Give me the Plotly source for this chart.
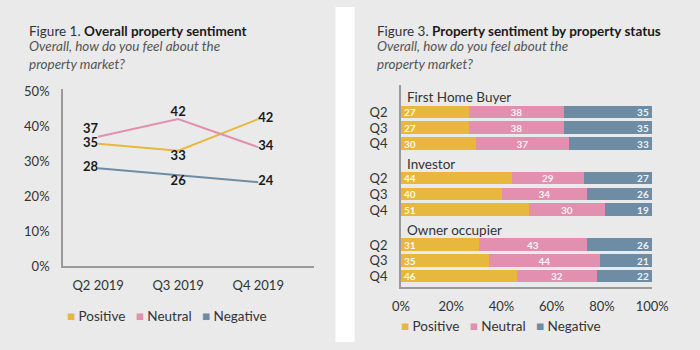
import plotly.graph_objects as go

# ---------------- data ----------------
quarters = ["Q2 2019", "Q3 2019", "Q4 2019"]
positive = [35, 33, 42]
neutral = [37, 42, 34]
negative = [28, 26, 24]

groups = ["First Home Buyer", "Investor", "Owner occupier"]
rows = ["Q2", "Q3", "Q4"]
bar_positive = [27, 27, 30, 44, 40, 51, 31, 35, 46]
bar_neutral = [38, 38, 37, 29, 34, 30, 43, 44, 32]
bar_negative = [35, 35, 33, 27, 26, 19, 26, 21, 22]

y_ticks = [0, 10, 20, 30, 40, 50]
x_ticks = [0, 20, 40, 60, 80, 100]

series_names = ["Positive", "Neutral", "Negative"]
colors = ["#E8B83E", "#E28FB0", "#6E8CA3"]

FONT = "Lato"
W, H = 700, 350

def px_x(p):
    return p / W

def px_y(p):
    return 1 - p / H

fig = go.Figure()

# ---------------- left: line chart ----------------
line_pos = [
    ["middle left", "bottom center", "middle right"],
    ["top left", "top center", "middle right"],
    ["middle left", "bottom center", "middle right"],
]
for name, vals, col, tp in zip(series_names, [positive, neutral, negative], colors, line_pos):
    fig.add_trace(go.Scatter(
        x=quarters, y=vals, mode="lines+text", name=name,
        line=dict(color=col, width=2),
        text=[str(v) for v in vals], textposition=tp,
        textfont=dict(family=FONT, size=13, color="#1a1a1a", weight="bold"),
        xaxis="x", yaxis="y", showlegend=False, cliponaxis=False,
    ))

# ---------------- right: stacked bars ----------------
GAP = 4.2
ypos, ytext = [], []
for g in range(len(groups)):
    for r, rl in enumerate(rows):
        ypos.append(g * GAP + r)
        ytext.append(rl)

anchors = ["start", "middle", "end"]
for name, vals, col, anc in zip(series_names, [bar_positive, bar_neutral, bar_negative], colors, anchors):
    fig.add_trace(go.Bar(
        x=vals, y=ypos, orientation="h", name=name,
        marker=dict(color=col, line=dict(width=0)),
        width=0.8,
        text=[str(v) for v in vals], textposition="inside", insidetextanchor=anc,
        textangle=0,
        textfont=dict(family=FONT, size=10, color="rgba(255,255,255,0.92)", weight="bold"),
        xaxis="x2", yaxis="y2", showlegend=False,
    ))

# ---------------- layout ----------------
axis_col = "#9a9a9a"
tick_font = dict(family=FONT, size=13, color="#333333")
panel = "#EAEAEA"

fig.update_layout(
    width=W, height=H, margin=dict(l=0, r=0, t=0, b=0),
    paper_bgcolor=panel, plot_bgcolor="rgba(0,0,0,0)",
    barmode="stack", bargap=0,
    uniformtext=dict(minsize=10, mode="show"),
    font=dict(family=FONT, color="#333333"),
    xaxis=dict(domain=[px_x(56), px_x(317)], range=[-0.44, 2.7], type="category",
               showline=True, linecolor=axis_col, linewidth=1.5, showgrid=False,
               ticks="", tickfont=tick_font, ticklabelstandoff=6, anchor="y"),
    yaxis=dict(domain=[px_y(271), px_y(86)], range=[0, 50.5], tickmode="array",
               tickvals=y_ticks, ticktext=[f"{v}%" for v in y_ticks],
               showline=True, linecolor=axis_col, linewidth=1.5, showgrid=False,
               zeroline=False, ticks="", tickfont=tick_font, ticklabelstandoff=9, anchor="x"),
    xaxis2=dict(domain=[px_x(407), px_x(668)], range=[0, 100], tickmode="array",
                tickvals=x_ticks, ticktext=[f"{v}%" for v in x_ticks],
                showline=True, linecolor=axis_col, linewidth=1.5, showgrid=False,
                zeroline=False, ticks="", tickfont=tick_font, ticklabelstandoff=6, anchor="y2"),
    yaxis2=dict(domain=[px_y(293), px_y(82)], range=[11.09, -1.70], tickmode="array",
                tickvals=ypos, ticktext=ytext,
                showline=True, linecolor=axis_col, linewidth=1.5, showgrid=False, zeroline=False,
                ticks="", tickfont=tick_font, ticklabelstandoff=9, anchor="x2"),
)

# white gap between the two panels
fig.add_shape(type="rect", xref="paper", yref="paper", x0=px_x(339), x1=px_x(359), y0=0, y1=1,
              fillcolor="white", line=dict(width=0), layer="below")

# titles
def title(x, text_fig, text_bold):
    fig.add_annotation(xref="paper", yref="paper", x=px_x(x), y=px_y(25), xanchor="left", yanchor="middle",
                       showarrow=False,
                       text=f"<span style='color:#333'>{text_fig}</span> <b>{text_bold}</b>",
                       font=dict(family=FONT, size=13.5, color="#1a1a1a"))
    fig.add_annotation(xref="paper", yref="paper", x=px_x(x), y=px_y(50), xanchor="left", yanchor="middle",
                       showarrow=False, align="left",
                       text="<i>Overall, how do you feel about the<br>property market?</i>",
                       font=dict(family=FONT, size=13.5, color="#555555"))

title(19, "Figure 1.", "Overall property sentiment")
title(380, "Figure 3.", "Property sentiment by property status")

# group labels
for g, gname in enumerate(groups):
    fig.add_annotation(xref="x2", yref="y2", x=0, y=g * GAP - 0.95, xanchor="left", yanchor="middle",
                       xshift=4, showarrow=False, text=gname,
                       font=dict(family=FONT, size=13.5, color="#333333"))

# legends
def legend(x, y):
    parts = []
    for n, c in zip(series_names, colors):
        parts.append(f"<span style='color:{c}'>■</span> {n}")
    fig.add_annotation(xref="paper", yref="paper", x=px_x(x), y=px_y(y), xanchor="left", yanchor="middle",
                       showarrow=False, text="&nbsp;&nbsp;&nbsp;".join(parts),
                       font=dict(family=FONT, size=13.5, color="#333333"))

legend(58, 323)
legend(405, 333)

fig.write_html(
    "out.html",
    config={"responsive": False, "displayModeBar": False},
    post_script="document.body.style.margin='0';document.body.style.overflow='hidden';",
)
